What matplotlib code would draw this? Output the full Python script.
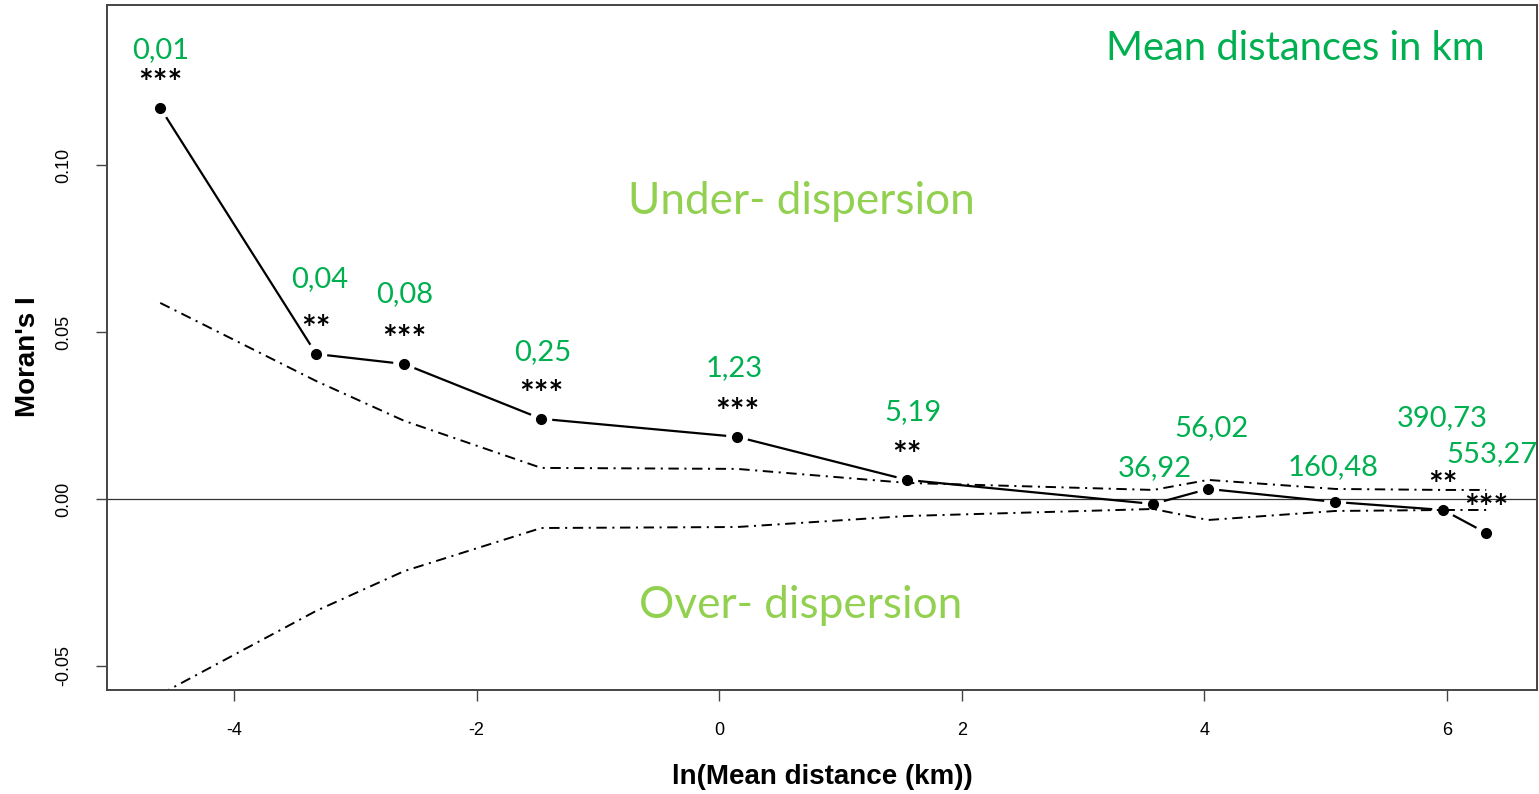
import numpy as np
import matplotlib
matplotlib.use("Agg")
import matplotlib.pyplot as plt

plt.rcParams["lines.scale_dashes"] = False

# ln of mean distance class (km)
log_dist = [-4.608, -3.322, -2.597, -1.467, 0.148, 1.550, 3.578, 4.031, 5.078, 5.969, 6.323]
# Moran's I per distance class
moran_i = [0.1171, 0.0434, 0.0404, 0.0240, 0.0186, 0.0057, -0.0015, 0.0030, -0.0009, -0.0033, -0.0102]
# permutation envelope
env_upper = [0.0587, 0.0353, 0.0234, 0.0093, 0.0090, 0.0048, 0.0027, 0.0057, 0.0030, 0.0027, 0.0027]
env_lower = [-0.0585, -0.0335, -0.0216, -0.0087, -0.0084, -0.0051, -0.0030, -0.0063, -0.0036, -0.0033, -0.0033]
# mean distance labels and significance codes
dist_labels = ["0,01", "0,04", "0,08", "0,25", "1,23", "5,19", "36,92", "56,02", "160,48", "390,73", "553,27"]
signif = ["***", "**", "***", "***", "***", "**", "", "", "", "**", "***"]

x_ticks = [-4, -2, 0, 2, 4, 6]
y_ticks = [-0.05, 0.00, 0.05, 0.10]

# label offsets (pixels) from each point
lab_off = [(0, 58), (3, 75), (1, 70), (1, 67), (-3, 69), (6, 68), (2, 36), (3, 61), (-2, 35), (-1, 92), (6, 79)]

GREEN = "#00B050"
LIGHT_GREEN = "#92D050"
AXCOL = "#444444"
narrow = ["Liberation Sans Narrow", "Liberation Sans", "DejaVu Sans"]
calib = ["Lato", "DejaVu Sans"]

W, H = 1539, 794
fig = plt.figure(figsize=(W / 100, H / 100), dpi=100)
ax = fig.add_axes([107 / W, 1 - 690 / H, (1537 - 107) / W, (690 - 5) / H])
ax.set_xlim(-5.047, 6.742)
ax.set_ylim(-0.0572, 0.1479)

# zero reference line
ax.axhline(0, color="#333333", lw=0.9, zorder=1)

# envelope, dash-dot
dd = (0, (7.5, 4, 1.5, 4))
ax.plot(log_dist, env_upper, color="black", lw=1.4, linestyle=dd, zorder=2)
ax.plot(log_dist, env_lower, color="black", lw=1.4, linestyle=dd, zorder=2)

# observed Moran's I: points joined by segments that stop short of each point
pts = ax.transData.transform(np.column_stack([log_dist, moran_i]))
gap = 11.0
inv = ax.transData.inverted()
for p0, p1 in zip(pts[:-1], pts[1:]):
    d = p1 - p0
    L = np.hypot(*d)
    if L <= 2 * gap:
        continue
    u = d / L
    seg = inv.transform(np.vstack([p0 + u * gap, p1 - u * gap]))
    ax.plot(seg[:, 0], seg[:, 1], color="black", lw=1.6, solid_capstyle="butt", zorder=3)
ax.plot(log_dist, moran_i, linestyle="none", marker="o", ms=7, color="black", zorder=4)

# significance stars and distance labels
for xv, yv, lab, sg, (dx, dy) in zip(log_dist, moran_i, dist_labels, signif, lab_off):
    if sg:
        ax.annotate(sg, (xv, yv), xytext=(0, 24 * 0.72), textcoords="offset points",
                    ha="center", va="center", fontsize=25, color="black",
                    family=calib, fontweight="bold", zorder=5)
    ax.annotate(lab, (xv, yv), xytext=(dx * 0.72, dy * 0.72), textcoords="offset points",
                ha="center", va="center", fontsize=21, color=GREEN, family=calib, zorder=5)

ax.text(1295 / W, 1 - 49 / H, "Mean distances in km", transform=fig.transFigure,
        ha="center", va="center", fontsize=28.7, color=GREEN, family=calib)
ax.text(801 / W, 1 - 202 / H, "Under- dispersion", transform=fig.transFigure,
        ha="center", va="center", fontsize=31.8, color=LIGHT_GREEN, family=calib)
ax.text(801 / W, 1 - 606 / H, "Over- dispersion", transform=fig.transFigure,
        ha="center", va="center", fontsize=31.8, color=LIGHT_GREEN, family=calib)

# axes styling
for s in ax.spines.values():
    s.set_color(AXCOL)
    s.set_linewidth(1.4)
ax.set_xticks(x_ticks)
ax.set_xticklabels([str(t) for t in x_ticks], family=narrow, fontsize=13)
ax.set_yticks(y_ticks)
ax.set_yticklabels([f"{t:.2f}" for t in y_ticks], family=narrow, fontsize=13,
                   rotation=90, va="center")
ax.tick_params(axis="both", direction="out", length=8, width=1.0, color=AXCOL, pad=15)
ax.tick_params(axis="y", pad=17)

fig.text(822 / W, 1 - 777 / H, "ln(Mean distance (km))", ha="center", va="center",
         fontsize=20, fontweight="bold", family=narrow)
fig.text(28 / W, 1 - 357 / H, "Moran's I", ha="center", va="center", rotation=90,
         fontsize=20, fontweight="bold", family=narrow)

fig.savefig("out.png", dpi=100)
